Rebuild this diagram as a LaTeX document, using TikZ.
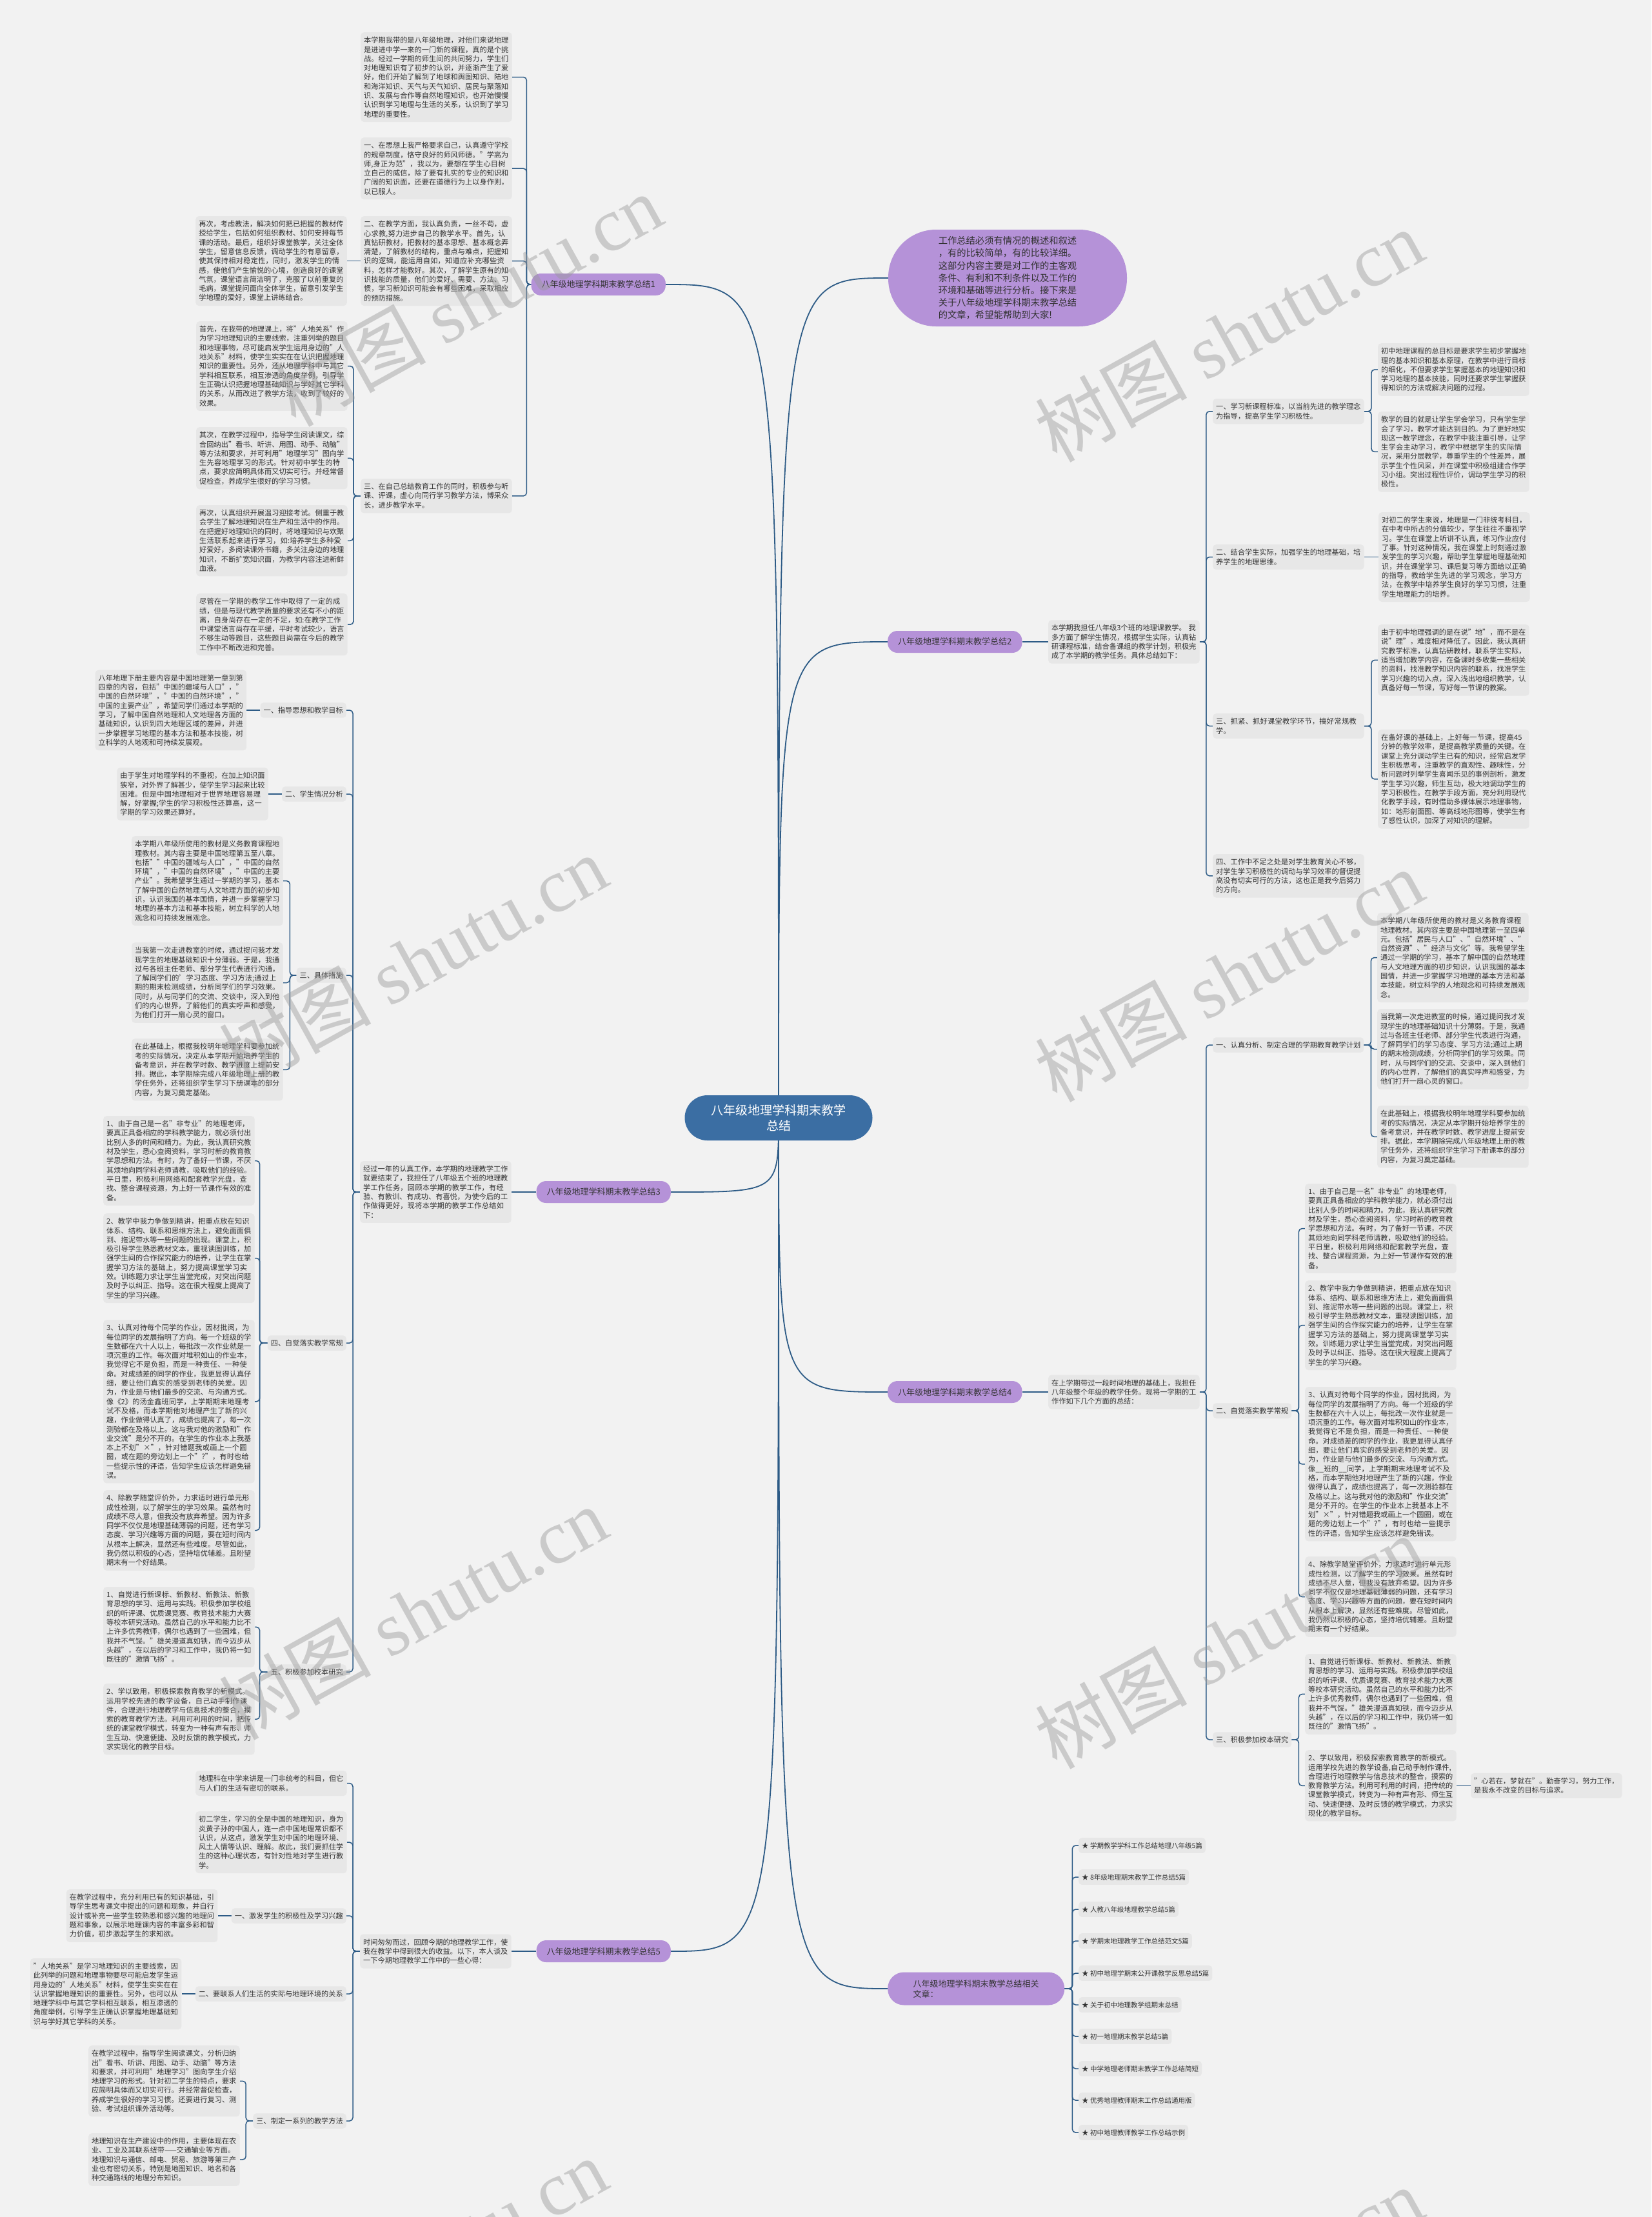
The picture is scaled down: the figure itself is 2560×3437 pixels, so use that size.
\documentclass[tikz,border=0pt]{standalone}
\usepackage{fontspec}
\setmainfont{Noto Sans CJK SC}
\newfontfamily\wmserif{Liberation Serif}
\usetikzlibrary{calc}
\XeTeXlinebreaklocale "zh"
\XeTeXlinebreakskip=0pt plus 1pt
\definecolor{bgc}{HTML}{F2F2F2}
\definecolor{boxc}{HTML}{E7E7E7}
\definecolor{txtc}{HTML}{333333}
\definecolor{linec}{HTML}{2D5B86}
\definecolor{purp}{HTML}{B592D8}
\definecolor{rootc}{HTML}{3B6EA3}
\definecolor{wmc}{HTML}{9A9A9A}
\pgfdeclarelayer{bg}\pgfdeclarelayer{fg}
\pgfsetlayers{bg,main,fg}
\tikzset{
 leaf/.style={fill=boxc, rounded corners=5pt, text=txtc, font=\fontsize{11.2}{14.3}\selectfont, text width=224.5pt, align=left, inner xsep=5pt, inner ysep=7pt},
 tag/.style={fill=boxc, rounded corners=5pt, text=txtc, font=\fontsize{11.2}{14.3}\selectfont, inner xsep=5pt, inner ysep=6.5pt},
 item/.style={fill=boxc, rounded corners=5pt, text=txtc, font=\fontsize{10.5}{13}\selectfont, inner xsep=5pt, inner ysep=7pt},
 brlabel/.style={fill=purp, rounded corners=15pt, text=txtc, font=\fontsize{13}{16}\selectfont, inner xsep=16pt, minimum height=34pt},
 rootbox/.style={fill=rootc, rounded corners=35pt, minimum width=291pt, minimum height=70pt, text=white, font=\fontsize{19}{24}\selectfont, align=center},
 bubble/.style={fill=purp, rounded corners=74pt, minimum width=370pt, minimum height=150pt, text=txtc, font=\fontsize{14.3}{19.2}\selectfont, align=left},
 mainln/.style={draw=linec, line width=1.8pt},
 subln/.style={draw=linec, line width=1.5pt, rounded corners=5pt},
 wm/.style={text=wmc, text opacity=0.45, rotate=29, font=\fontsize{118}{118}\selectfont}
}
\newcommand\fanL[3]{\foreach \kid in {#3}{\draw[subln] (#1.west) -- ([xshift=-#2pt]#1.west) |- (\kid.east);}}
\newcommand\fanR[3]{\foreach \kid in {#3}{\draw[subln] (#1.east) -- ([xshift=#2pt]#1.east) |- (\kid.west);}}
\newcommand\TxtOne{1、由于自己是一名"非专业"的地理老师，要真正具备相应的学科教学能力，就必须付出比别人多的时间和精力。为此，我认真研究教材及学生，悉心查阅资料，学习时新的教育教学思想和方法。有时，为了备好一节课，不厌其烦地向同学科老师请教，吸取他们的经验。平日里，积极利用网络和配套教学光盘，查找、整合课程资源，为上好一节课作有效的准备。}
\newcommand\TxtTwo{2、教学中我力争做到精讲，把重点放在知识体系、结构、联系和思维方法上，避免面面俱到、拖泥带水等一些问题的出现。课堂上，积极引导学生熟悉教材文本，重视读图训练，加强学生间的合作探究能力的培养，让学生在掌握学习方法的基础上，努力提高课堂学习实效。训练题力求让学生当堂完成，对突出问题及时予以纠正、指导。这在很大程度上提高了学生的学习兴趣。}
\newcommand\TxtFour{4、除教学随堂评价外，力求适时进行单元形成性检测，以了解学生的学习效果。虽然有时成绩不尽人意，但我没有放弃希望。因为许多同学不仅仅是地理基础薄弱的问题，还有学习态度、学习兴趣等方面的问题，要在短时间内从根本上解决，显然还有些难度。尽管如此，我仍然以积极的心态，坚持培优辅差。且盼望期末有一个好结果。}
\newcommand\TxtFiveA{1、自觉进行新课标、新教材、新教法、新教育思想的学习、运用与实践。积极参加学校组织的听评课、优质课竞赛、教育技术能力大赛等校本研究活动。虽然自己的水平和能力比不上许多优秀教师，偶尔也遇到了一些困难，但我并不气馁。"雄关漫道真如铁，而今迈步从头越"，在以后的学习和工作中，我仍将一如既往的"激情飞扬"。}
\newcommand\TxtBase{在此基础上，根据我校明年地理学科要参加统考的实际情况，决定从本学期开始培养学生的备考意识，并在教学时数、教学进度上提前安排。据此，本学期除完成八年级地理上册的教学任务外，还将组织学生学习下册课本的部分内容，为复习奠定基础。}
\begin{document}
\begin{tikzpicture}[x=1pt,y=-1pt]
\useasboundingbox (0,0) rectangle (2560,3437);
\begin{pgfonlayer}{bg}
\fill[bgc] (0,0) rectangle (2560,3437);
\end{pgfonlayer}

% root and top bubble
\node[rootbox] (root) at (1207,1733) {八年级地理学科期末教学\\总结};
\node[bubble] (top) at (1562,431) {工作总结必须有情况的概述和叙述\\，有的比较简单，有的比较详细。\\这部分内容主要是对工作的主客观\\条件、有利和不利条件以及工作的\\环境和基础等进行分析。接下来是\\关于八年级地理学科期末教学总结\\的文章，希望能帮助到大家!};

% branch labels
\node[brlabel, anchor=east] (B1) at (1032,441) {八年级地理学科期末教学总结1};
\node[brlabel, anchor=east] (B3) at (1040,1848) {八年级地理学科期末教学总结3};
\node[brlabel, anchor=east] (B5) at (1040,3025) {八年级地理学科期末教学总结5};
\node[brlabel, anchor=west] (B2) at (1376,995) {八年级地理学科期末教学总结2};
\node[brlabel, anchor=west] (B4) at (1376,2158) {八年级地理学科期末教学总结4};
\node[brlabel, anchor=west, minimum height=51pt, minimum width=274pt, rounded corners=25pt, align=left] (B6) at (1376,3083) {八年级地理学科期末教学总结相关\\文章：};

% ---------- branch 1 ----------
\node[leaf, anchor=north west] (b1a) at (559,50) {本学期我带的是八年级地理，对他们来说地理是进进中学一来的一门新的课程，真的是个挑战。经过一学期的师生间的共同努力，学生们对地理知识有了初步的认识，并逐渐产生了爱好，他们开始了解到了地球和舆图知识、陆地和海洋知识、天气与天气知识、居民与聚落知识、发展与合作等自然地理知识，也开始慢慢认识到学习地理与生活的关系，认识到了学习地理的重要性。};
\node[leaf, anchor=north west] (b1b) at (559,213) {一、在思想上我严格要求自己，认真遵守学校的规章制度，恪守良好的师风师德。"学高为师,身正为范"，我以为，要想在学生心目树立自己的威信，除了要有扎实的专业的知识和广阔的知识面，还要在道德行为上以身作则，以已服人。};
\node[leaf, anchor=north west] (b1c) at (559,335) {二、在教学方面，我认真负责，一丝不苟，虚心求教,努力进步自己的教学水平。首先，认真钻研教材，把教材的基本思想、基本概念弄清楚，了解教材的结构，重点与难点，把握知识的逻辑，能运用自如，知道应补充哪些资料，怎样才能教好。其次，了解学生原有的知识技能的质量，他们的爱好、需要、方法、习惯，学习新知识可能会有哪些困难，采取相应的预防措施。};
\node[leaf, anchor=north west] (b1d) at (559,742) {三、在自己总结教育工作的同时，积极参与听课、评课，虚心向同行学习教学方法，博采众长，进步教学水平。};
\node[leaf, anchor=east] (b1c1) at ([xshift=-21pt]b1c.west) {再次，考虑教法，解决如何把已把握的教材传授给学生，包括如何组织教材、如何安排每节课的活动。最后，组织好课堂教学，关注全体学生，留意信息反馈，调动学生的有意留意，使其保持相对稳定性，同时，激发学生的情感，使他们产生愉悦的心境，创造良好的课堂气氛，课堂语言简洁明了，克服了以前重复的毛病，课堂提问面向全体学生，留意引发学生学地理的爱好，课堂上讲练结合。};
\node[leaf, anchor=north west] (b1d1) at (304,498) {首先，在我带的地理课上，将"人地关系"作为学习地理知识的主要线索，注重列举的题目和地理事物，尽可能启发学生运用身边的"人地关系"材料，使学生实实在在认识把握地理知识的重要性。另外，还从地理学科中与其它学科相互联系，相互渗透的角度举例，引导学生正确认识把握地理基础知识与学好其它学科的关系，从而改进了教学方法，收到了较好的效果。};
\node[leaf, anchor=north west] (b1d2) at (304,662) {其次，在教学过程中，指导学生阅读课文，综合回纳出"看书、听讲、用图、动手、动脑"等方法和要求，并可利用"地理学习"图向学生先容地理学习的形式。针对初中学生的特点，要求应简明具体而又切实可行。并经常督促检查，养成学生很好的学习习惯。};
\node[leaf, anchor=north west] (b1d3) at (304,783) {再次，认真组织开展温习迎接考试。侧重于教会学生了解地理知识在生产和生活中的作用。在把握好地理知识的同时，将地理知识与欢聚生活联系起来进行学习，如:培养学生多种爱好爱好，多阅读课外书籍，多关注身边的地理知识，不断扩宽知识面，为教学内容注进新鲜血液。};
\node[leaf, anchor=north west] (b1d4) at (304,920) {尽管在一学期的教学工作中取得了一定的成绩，但是与现代教学质量的要求还有不小的距离，自身尚存在一定的不足，如:在教学工作中课堂语言尚存在平缓，平时考试较少，语言不够生动等题目，这些题目尚需在今后的教学工作中不断改进和完善。};

% ---------- branch 3 ----------
\node[leaf, anchor=west] (b3i) at (558,1848) {经过一年的认真工作，本学期的地理教学工作就要结束了，我担任了八年级五个班的地理教学工作任务，回顾本学期的教学工作，有经验、有教训、有成功、有喜悦，为使今后的工作做得更好，现将本学期的教学工作总结如下：};
\node[tag, anchor=east] (s31) at (537,1101) {一、指导思想和教学目标};
\node[tag, anchor=east] (s32) at (537,1231) {二、学生情况分析};
\node[tag, anchor=east] (s33) at (537,1512) {三、具体措施};
\node[tag, anchor=east] (s34) at (537,2082) {四、自觉落实教学常规};
\node[tag, anchor=east] (s35) at (537,2592) {五、积极参加校本研究};
\node[leaf, anchor=east] (s31a) at ([xshift=-21pt]s31.west) {八年地理下册主要内容是中国地理第一章到第四章的内容，包括"中国的疆域与人口"，"中国的自然环境"，"中国的自然环境"，"中国的主要产业"，希望同学们通过本学期的学习，了解中国自然地理和人文地理各方面的基础知识，认识到四大地理区域的差异，并进一步掌握学习地理的基本方法和基本技能，树立科学的人地观和可持续发展观。};
\node[leaf, anchor=east] (s32a) at ([xshift=-21pt]s32.west) {由于学生对地理学科的不重视，在加上知识面狭窄，对外界了解甚少，使学生学习起来比较困难。但是中国地理相对于世界地理容易理解，好掌握;学生的学习积极性还算高，这一学期的学习效果还算好。};
\node[leaf, anchor=north west] (s33a) at (204,1296) {本学期八年级所使用的教材是义务教育课程地理教材。其内容主要是中国地理第五至八章。包括""中国的疆域与人口"，"中国的自然环境"，"中国的自然环境"，"中国的主要产业"。我希望学生通过一学期的学习，基本了解中国的自然地理与人文地理方面的初步知识，认识我国的基本国情，并进一步掌握学习地理的基本方法和基本技能，树立科学的人地观念和可持续发展观念。};
\node[leaf, anchor=north west] (s33b) at (204,1461) {当我第一次走进教室的时候，通过提问我才发现学生的地理基础知识十分薄弱。于是，我通过与各班主任老师、部分学生代表进行沟通，了解同学们的'学习态度、学习方法;通过上期的期末检测成绩，分析同学们的学习效果。同时，从与同学们的交流、交谈中，深入到他们的内心世界，了解他们的真实呼声和感受，为他们打开一扇心灵的窗口。};
\node[leaf, anchor=north west] (s33c) at (204,1610) {\TxtBase};
\node[leaf, anchor=north west] (s34a) at (160,1730) {\TxtOne};
\node[leaf, anchor=north west] (s34b) at (160,1881) {\TxtTwo};
\node[leaf, anchor=north west] (s34c) at (160,2046) {3、认真对待每个同学的作业，因材批阅，为每位同学的发展指明了方向。每一个班级的学生数都在六十人以上，每批改一次作业就是一项沉重的工作。每次面对堆积如山的作业本，我觉得它不是负担，而是一种责任、一种使命。对成绩差的同学的作业，我更显得认真仔细，要让他们真实的感受到老师的关爱。因为，作业是与他们最多的交流、与沟通方式。像《2》的汤金鑫班同学，上学期期末地理考试不及格，而本学期他对地理产生了新的兴趣，作业做得认真了，成绩也提高了，每一次测验都在及格以上。这与我对他的激励和"作业交流"是分不开的。在学生的作业本上我基本上不划"×"，针对错题我或画上一个圆圈，或在题的旁边划上一个"?"，有时也给一些提示性的评语，告知学生应该怎样避免错误。};
\node[leaf, anchor=north west] (s34d) at (160,2310) {\TxtFour};
\node[leaf, anchor=north west] (s35a) at (160,2460) {\TxtFiveA};
\node[leaf, anchor=north west] (s35b) at (160,2610) {2、学以致用，积极探索教育教学的新模式。运用学校先进的教学设备，自己动手制作课件，合理进行地理教学与信息技术的整合，摸索的教育教学方法。利用可利用的时间，把传统的课堂教学模式，转变为一种有声有形、师生互动、快速便捷、及时反馈的教学模式，力求实现化的教学目标。};

% ---------- branch 5 ----------
\node[leaf, anchor=west] (b5i) at (558,3025) {时间匆匆而过，回顾今期的地理教学工作，使我在教学中得到很大的收益。以下，本人谈及一下今期地理教学工作中的一些心得：};
\node[leaf, anchor=north west] (c51) at (303,2745) {地理科在中学来讲是一门非统考的科目，但它与人们的生活有密切的联系。};
\node[leaf, anchor=north west] (c52) at (303,2808) {初二学生，学习的全是中国的地理知识，身为炎黄子孙的中国人，连一点中国地理常识都不认识，从这点，激发学生对中国的地理环境、风土人情等认识、理解。故此，我们要抓住学生的这种心理状态，有针对性地对学生进行教学。};
\node[tag, anchor=east] (s51) at (537,2970) {一、激发学生的积极性及学习兴趣};
\node[tag, anchor=east] (s52) at (537,3091) {二、要联系人们生活的实际与地理环境的关系};
\node[tag, anchor=east] (s53) at (537,3288) {三、制定一系列的教学方法};
\node[leaf, anchor=east] (s51a) at ([xshift=-21pt]s51.west) {在教学过程中，充分利用已有的知识基础，引导学生思考课文中提出的问题和现象，并自行设计或补充一些学生较熟悉和感兴趣的地理问题和事象，以展示地理课内容的丰富多彩和智力价值，初步激起学生的求知欲。};
\node[leaf, anchor=east] (s52a) at ([xshift=-21pt]s52.west) {"人地关系"是学习地理知识的主要线索，因此列举的问题和地理事物要尽可能启发学生运用身边的"人地关系"材料，使学生实实在在认识掌握地理知识的重要性。另外，也可以从地理学科中与其它学科相互联系，相互渗透的角度举例，引导学生正确认识掌握地理基础知识与学好其它学科的关系。};
\node[leaf, anchor=north west] (s53a) at (137,3171) {在教学过程中，指导学生阅读课文，分析归纳出"看书、听讲、用图、动手、动脑"等方法和要求，并可利用"地理学习"图向学生介绍地理学习的形式。针对初二学生的特点，要求应简明具体而又切实可行。并经常督促检查，养成学生很好的学习习惯。还要进行复习、测验、考试组织课外活动等。};
\node[leaf, anchor=north west] (s53b) at (137,3307) {地理知识在生产建设中的作用，主要体现在农业、工业及其联系纽带——交通输业等方面。地理知识与通信、邮电、贸易、旅游等第三产业也有密切关系，特别是地图知识、地名和各种交通路线的地理分布知识。};

% ---------- branch 2 ----------
\node[leaf, anchor=west] (b2i) at (1625,995) {本学期我担任八年级3个班的地理课教学。 我多方面了解学生情况，根据学生实际，认真钻研课程标准，结合备课组的教学计划，积极完成了本学期的教学任务。具体总结如下：};
\node[leaf, anchor=north west] (s21) at (1880,618) {一、学习新课程标准，以当前先进的教学理念为指导，提高学生学习积极性。};
\node[leaf, anchor=north west] (s22) at (1880,844) {二、结合学生实际，加强学生的地理基础，培养学生的地理思维。};
\node[leaf, anchor=north west] (s23) at (1880,1106) {三、抓紧、抓好课堂教学环节，搞好常规教学。};
\node[leaf, anchor=north west] (s24) at (1880,1324) {四、工作中不足之处是对学生教育关心不够，对学生学习积极性的调动与学习效率的督促提高没有切实可行的方法，这也正是我今后努力的方向。};
\node[leaf, anchor=north west] (s21a) at (2136,532) {初中地理课程的总目标是要求学生初步掌握地理的基本知识和基本原理，在教学中进行目标的细化，不但要求学生掌握基本的地理知识和学习地理的基本技能，同时还要求学生掌握获得知识的方法或解决问题的过程。};
\node[leaf, anchor=north west] (s21b) at (2136,638) {教学的目的就是让学生学会学习，只有学生学会了学习，教学才能达到目的。为了更好地实现这一教学理念，在教学中我注重引导，让学生学会主动学习，教学中根据学生的实际情况，采用分层教学，尊重学生的个性差异，展示学生个性风采，并在课堂中积极组建合作学习小组。突出过程性评价，调动学生学习的积极性。};
\node[leaf, anchor=west] (s22a) at ([xshift=22pt]s22.east) {对初二的学生来说，地理是一门非统考科目，在中考中所占的分值较少，学生往往不重视学习。学生在课堂上听讲不认真，练习作业应付了事。针对这种情况，我在课堂上时刻通过激发学生的学习兴趣，帮助学生掌握地理基础知识，并在课堂学习、课后复习等方面给以正确的指导，教给学生先进的学习观念，学习方法，在教学中培养学生良好的学习习惯，注重学生地理能力的培养。};
\node[leaf, anchor=north west] (s23a) at (2136,968) {由于初中地理强调的是在说"地"，而不是在说"理"，难度相对降低了。因此，我认真研究教学标准，认真钻研教材，联系学生实际，适当增加教学内容，在备课时多收集一些相关的资料，找准教学知识内容的联系，找准学生学习兴趣的切入点，深入浅出地组织教学，认真备好每一节课，写好每一节课的教案。};
\node[leaf, anchor=north west] (s23b) at (2136,1131) {在备好课的基础上，上好每一节课，提高45分钟的教学效率，是提高教学质量的关键。在课堂上充分调动学生已有的知识，经常启发学生积极思考，注重教学的直观性、趣味性，分析问题时列举学生喜闻乐见的事例剖析，激发学生学习兴趣，师生互动，极大地调动学生的学习积极性。在教学手段方面，充分利用现代化教学手段，有时借助多媒体展示地理事物，如：地形剖面图、等高线地形图等，使学生有了感性认识，加深了对知识的理解。};

% ---------- branch 4 ----------
\node[leaf, anchor=west] (b4i) at (1625,2158) {在上学期带过一段时间地理的基础上，我担任八年级整个年级的教学任务。现将一学期的工作作如下几个方面的总结：};
\node[tag, anchor=west] (s41) at (1880,1620) {一、认真分析、制定合理的学期教育教学计划};
\node[tag, anchor=west] (s42) at (1880,2187) {二、自觉落实教学常规};
\node[tag, anchor=west] (s43) at (1880,2697) {三、积极参加校本研究};
\node[leaf, anchor=north west] (s41a) at (2135,1415) {本学期八年级所使用的教材是义务教育课程地理教材。其内容主要是中国地理第一至四单元。包括"居民与人口"、"自然环境"、"自然资源"、"经济与文化"等。我希望学生通过一学期的学习，基本了解中国的自然地理与人文地理方面的初步知识，认识我国的基本国情，并进一步掌握学习地理的基本方法和基本技能，树立科学的人地观念和可持续发展观念。};
\node[leaf, anchor=north west] (s41b) at (2135,1564) {当我第一次走进教室的时候，通过提问我才发现学生的地理基础知识十分薄弱。于是，我通过与各班主任老师、部分学生代表进行沟通，了解同学们的学习态度、学习方法;通过上期的期末检测成绩，分析同学们的学习效果。同时，从与同学们的交流、交谈中，深入到他们的内心世界，了解他们的真实呼声和感受，为他们打开一扇心灵的窗口。};
\node[leaf, anchor=north west] (s41c) at (2135,1714) {\TxtBase};
\node[leaf, anchor=north west] (s42a) at (2023,1835) {\TxtOne};
\node[leaf, anchor=north west] (s42b) at (2023,1985) {\TxtTwo};
\node[leaf, anchor=north west] (s42c) at (2023,2150) {3、认真对待每个同学的作业，因材批阅，为每位同学的发展指明了方向。每一个班级的学生数都在六十人以上，每批改一次作业就是一项沉重的工作。每次面对堆积如山的作业本，我觉得它不是负担，而是一种责任、一种使命。对成绩差的同学的作业，我更显得认真仔细，要让他们真实的感受到老师的关爱。因为，作业是与他们最多的交流、与沟通方式。像\_\_班的\_\_同学，上学期期末地理考试不及格，而本学期他对地理产生了新的兴趣，作业做得认真了，成绩也提高了，每一次测验都在及格以上。这与我对他的激励和"作业交流"是分不开的。在学生的作业本上我基本上不划"×"，针对错题我或画上一个圆圈，或在题的旁边划上一个"?"，有时也给一些提示性的评语，告知学生应该怎样避免错误。};
\node[leaf, anchor=north west] (s42d) at (2023,2413) {\TxtFour};
\node[leaf, anchor=north west] (s43a) at (2023,2564) {\TxtFiveA};
\node[leaf, anchor=north west] (s43b) at (2023,2713) {2、学以致用，积极探索教育教学的新模式。运用学校先进的教学设备,自己动手制作课件,合理进行地理教学与信息技术的整合，摸索的教育教学方法。利用可利用的时间，把传统的课堂教学模式，转变为一种有声有形、师生互动、快速便捷、及时反馈的教学模式，力求实现化的教学目标。};
\node[leaf, anchor=west] (s43c) at ([xshift=22pt]s43b.east) {"心若在，梦就在"。勤奋学习，努力工作，是我永不改变的目标与追求。};

% ---------- branch 6 ----------
\node[item, anchor=west] (i1) at (1672,2861) {★ 学期教学学科工作总结地理八年级5篇};
\node[item, anchor=west] (i2) at (1672,2910) {★ 8年级地理期末教学工作总结5篇};
\node[item, anchor=west] (i3) at (1672,2960) {★ 人教八年级地理教学总结5篇};
\node[item, anchor=west] (i4) at (1672,3009) {★ 学期末地理教学工作总结范文5篇};
\node[item, anchor=west] (i5) at (1672,3059) {★ 初中地理学期末公开课教学反思总结5篇};
\node[item, anchor=west] (i6) at (1672,3108) {★ 关于初中地理教学组期末总结};
\node[item, anchor=west] (i7) at (1672,3157) {★ 初一地理期末教学总结5篇};
\node[item, anchor=west] (i8) at (1672,3207) {★ 中学地理老师期末教学工作总结简短};
\node[item, anchor=west] (i9) at (1672,3256) {★ 优秀地理教师期末工作总结通用版};
\node[item, anchor=west] (i10) at (1672,3306) {★ 初中地理教师教学工作总结示例};

% ---------- connectors ----------
\begin{pgfonlayer}{bg}
\foreach \br/\an in {B1/east,B3/east,B5/east,B2/west,B4/west,B6/west,top/west}{
  \draw[mainln] (root.center) .. controls (root.center |- \br.\an) .. (\br.\an);
}
\fanL{B1}{7}{b1a,b1b,b1c,b1d}
\draw[subln] (b1c.west) -- (b1c1.east);
\fanL{b1d}{11}{b1d1,b1d2,b1d3,b1d4}

\draw[subln] (B3.west) -- (b3i.east);
\fanL{b3i}{11}{s31,s32,s33,s34,s35}
\draw[subln] (s31.west) -- (s31a.east);
\draw[subln] (s32.west) -- (s32a.east);
\fanL{s33}{10}{s33a,s33b,s33c}
\fanL{s34}{12}{s34a,s34b,s34c,s34d}
\fanL{s35}{12}{s35a,s35b}

\draw[subln] (B5.west) -- (b5i.east);
\fanL{b5i}{11}{c51,c52,s51,s52,s53}
\draw[subln] (s51.west) -- (s51a.east);
\draw[subln] (s52.west) -- (s52a.east);
\fanL{s53}{11}{s53a,s53b}

\draw[subln] (B2.east) -- (b2i.west);
\fanR{b2i}{10}{s21,s22,s23,s24}
\fanR{s21}{11}{s21a,s21b}
\draw[subln] (s22.east) -- (s22a.west);
\fanR{s23}{11}{s23a,s23b}

\draw[subln] (B4.east) -- (b4i.west);
\fanR{b4i}{10}{s41,s42,s43}
\fanR{s41}{11}{s41a,s41b,s41c}
\fanR{s42}{11}{s42a,s42b,s42c,s42d}
\fanR{s43}{11}{s43a,s43b}
\draw[subln] (s43b.east) -- (s43c.west);

\fanR{B6}{12}{i1,i2,i3,i4,i5,i6,i7,i8,i9,i10}
\end{pgfonlayer}

% ---------- watermarks ----------
\begin{pgfonlayer}{fg}
\node[wm] (w1) at (725,465) {树图 {\wmserif shutu.cn}};
\node[wm] (w2) at (1905,520) {树图 {\wmserif shutu.cn}};
\node[wm] (w3) at (640,1490) {树图 {\wmserif shutu.cn}};
\node[wm] (w4) at (1905,1512) {树图 {\wmserif shutu.cn}};
\node[wm] (w5) at (640,2500) {树图 {\wmserif shutu.cn}};
\node[wm] (w6) at (1905,2545) {树图 {\wmserif shutu.cn}};
\node[wm] (w7) at (640,3510) {树图 {\wmserif shutu.cn}};
\node[wm] (w8) at (1905,3555) {树图 {\wmserif shutu.cn}};
\end{pgfonlayer}
\end{tikzpicture}
\end{document}
